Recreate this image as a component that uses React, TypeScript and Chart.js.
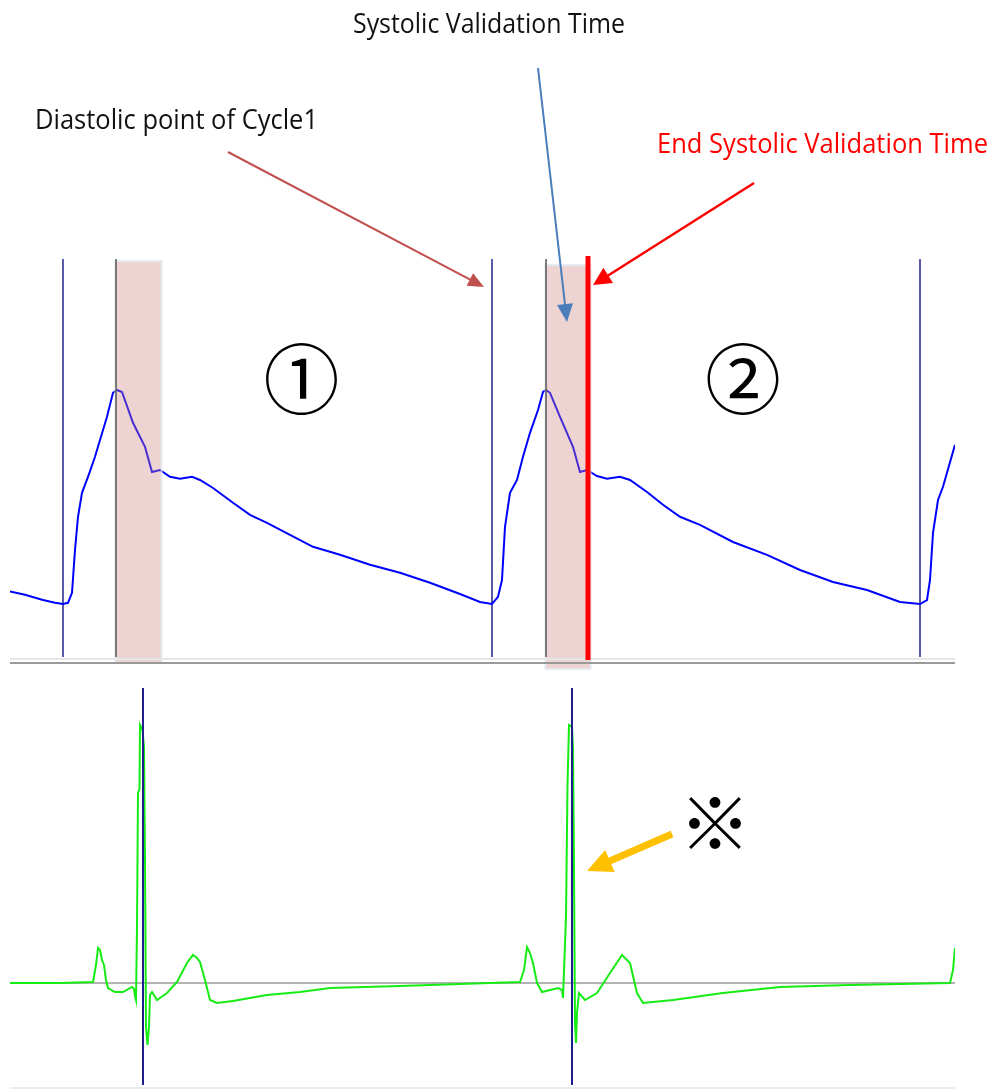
import React, { useEffect, useRef } from "react";
import { Chart, registerables } from "chart.js";

Chart.register(...registerables);

// ---- Arterial pressure trace (time in ms, pressure in mmHg) ----
const bpTimes = [
  0, 30, 66, 90, 106, 116, 124, 130, 136, 144, 156, 170, 180, 194, 206, 214, 224, 246, 270, 284,
  300, 320, 340, 364, 380, 406, 446, 480, 514, 560, 606, 660, 720, 780, 840, 900, 940, 964,
  976, 984, 990, 1000, 1014, 1026, 1040, 1056, 1066, 1072, 1080, 1100, 1126, 1140, 1154, 1174,
  1194, 1220, 1240, 1274, 1306, 1340, 1380, 1446, 1514, 1580, 1646, 1714, 1780, 1820, 1834,
  1840, 1846, 1856, 1866, 1890,
];
const bpValues = [
  77.1, 76.3, 75.0, 74.3, 74.0, 74.3, 76.8, 87.5, 95.8, 101.8, 105.8, 110.8, 115.0, 120.8, 126.8,
  127.5, 127.0, 119.3, 113.3, 107.0, 107.5, 105.8, 105.3, 105.8, 105.0, 103.0, 99.3, 96.3, 94.3,
  91.3, 88.3, 86.3, 83.8, 81.8, 79.3, 76.5, 74.5, 74.0, 75.8, 80.0, 93.3, 101.8, 105.0, 110.8,
  116.8, 122.5, 127.0, 127.5, 126.8, 120.8, 113.3, 107.0, 107.5, 106.0, 105.3, 105.8, 105.0,
  102.0, 98.8, 95.8, 93.8, 89.5, 86.3, 82.5, 79.5, 77.5, 74.5, 74.0, 75.0, 80.0, 91.8, 100.0,
  103.3, 113.8,
];

// ---- ECG trace (time in ms, mV) ----
const ecgTimes = [
  0, 100, 166, 172, 176, 180, 184, 188, 192, 196, 210, 226, 244, 248, 250, 252, 254, 256, 259,
  260, 265, 268, 270, 272, 275, 278, 280, 284, 294, 314, 334, 354, 366, 374, 380, 390, 400, 414,
  446, 514, 580, 640, 780, 900, 960, 1020, 1028, 1034, 1040, 1046, 1054, 1064, 1096, 1104, 1106,
  1112, 1115, 1118, 1124, 1126, 1128, 1130, 1132, 1134, 1138, 1150, 1174, 1200, 1224, 1240, 1254,
  1266, 1326, 1426, 1540, 1680, 1880, 1886, 1890,
];
const ecgValues = [
  0, 0, 0.005, 0.09, 0.175, 0.165, 0.115, 0.09, 0.015, -0.025, -0.045, -0.045, -0.02, -0.03,
  -0.065, -0.085, 0.28, 0.95, 0.97, 1.29, 1.265, 1.18, 0.615, -0.22, -0.31, -0.22, -0.06, -0.045,
  -0.085, -0.05, 0.005, 0.1, 0.14, 0.125, 0.105, 0.015, -0.085, -0.1, -0.09, -0.06, -0.045,
  -0.025, -0.015, -0.005, 0, 0.005, 0.065, 0.18, 0.15, 0.1, 0, -0.045, -0.025, -0.035, -0.075,
  0.33, 0.99, 1.29, 1.28, 1.175, 0.565, -0.2, -0.3, -0.15, -0.05, -0.085, -0.05, 0.05, 0.14, 0.1,
  -0.05, -0.1, -0.085, -0.05, -0.02, -0.01, 0, 0.065, 0.175,
];

// ---- Markers (ms) ----
const cycleMarkerTimes = [106, 964, 1820];
const peakMarkerTimes = [212, 1072];
const windowStarts = [212, 1072];
const windowEnds = [302, 1160];
const endSystolicTime = 1156;
const rWaveTimes = [266, 1124];
const cycleLabels = ["①", "②"];
const cycleLabelTimes = [583, 1466];

const systolicLabel = "Systolic Validation Time";
const diastolicLabel = "Diastolic point of Cycle1";
const endSystolicLabel = "End Systolic Validation Time";
const noteMark = "※";

const TIME_MAX = 1890;

function arrow(
  ctx: CanvasRenderingContext2D,
  x1: number,
  y1: number,
  x2: number,
  y2: number,
  color: string,
  width: number,
  headLen: number,
  headHalf: number
) {
  const a = Math.atan2(y2 - y1, x2 - x1);
  const bx = x2 - Math.cos(a) * headLen;
  const by = y2 - Math.sin(a) * headLen;
  ctx.save();
  ctx.strokeStyle = color;
  ctx.fillStyle = color;
  ctx.lineWidth = width;
  ctx.lineCap = "butt";
  ctx.beginPath();
  ctx.moveTo(x1, y1);
  ctx.lineTo(bx + Math.cos(a) * 2, by + Math.sin(a) * 2);
  ctx.stroke();
  ctx.beginPath();
  ctx.moveTo(x2, y2);
  ctx.lineTo(bx + Math.sin(a) * headHalf, by - Math.cos(a) * headHalf);
  ctx.lineTo(bx - Math.sin(a) * headHalf, by + Math.cos(a) * headHalf);
  ctx.closePath();
  ctx.fill();
  ctx.restore();
}

function vline(ctx: CanvasRenderingContext2D, x: number, y0: number, y1: number) {
  ctx.beginPath();
  ctx.moveTo(x, y0);
  ctx.lineTo(x, y1);
  ctx.stroke();
}

const topPlugin = {
  id: "topAnnotations",
  beforeDatasetsDraw(chart: any) {
    const { ctx } = chart;
    const x = chart.scales.x;
    ctx.save();
    ctx.strokeStyle = "#22228f";
    ctx.lineWidth = 1.5;
    cycleMarkerTimes.forEach((t) => vline(ctx, x.getPixelForValue(t), 259, 657));
    ctx.restore();
  },
  afterDatasetsDraw(chart: any) {
    const { ctx } = chart;
    const x = chart.scales.x;
    ctx.save();
    // validation windows
    windowStarts.forEach((s, i) => {
      const x0 = x.getPixelForValue(s);
      const x1 = x.getPixelForValue(windowEnds[i]);
      const top = i === 0 ? 262 : 266;
      const bottom = i === 0 ? 662 : 668;
      ctx.fillStyle = "rgba(205,130,130,0.35)";
      ctx.fillRect(x0, top, x1 - x0, bottom - top);
      ctx.strokeStyle = "rgba(222,228,238,0.75)";
      ctx.lineWidth = 2;
      ctx.strokeRect(x0 - 0.5, top - 1, x1 - x0 + 1, bottom - top + 2);
    });
    // systolic peak markers
    ctx.strokeStyle = "#555555";
    ctx.lineWidth = 1.5;
    peakMarkerTimes.forEach((t) => vline(ctx, x.getPixelForValue(t), 259, 657));
    // separator
    ctx.strokeStyle = "#e6e6e6";
    ctx.lineWidth = 2;
    ctx.beginPath();
    ctx.moveTo(x.getPixelForValue(0), 659);
    ctx.lineTo(x.getPixelForValue(TIME_MAX), 659);
    ctx.stroke();
    ctx.strokeStyle = "#9a9a9a";
    ctx.lineWidth = 2;
    ctx.beginPath();
    ctx.moveTo(x.getPixelForValue(0), 663);
    ctx.lineTo(x.getPixelForValue(TIME_MAX), 663);
    ctx.stroke();
    // end systolic red line
    const ex = x.getPixelForValue(endSystolicTime);
    ctx.strokeStyle = "#ff0000";
    ctx.lineWidth = 5;
    vline(ctx, ex, 256, 660);

    // cycle labels
    ctx.fillStyle = "#000000";
    ctx.textAlign = "center";
    ctx.textBaseline = "middle";
    ctx.font = '76px "Noto Sans CJK JP"';
    cycleLabels.forEach((lab, i) => ctx.fillText(lab, x.getPixelForValue(cycleLabelTimes[i]), 379));

    // text labels
    ctx.textAlign = "left";
    ctx.textBaseline = "alphabetic";
    ctx.font = '27px "Open Sans"';
    ctx.fillStyle = "#111111";
    ctx.fillText(systolicLabel, 353, 33, 272);
    ctx.fillText(diastolicLabel, 35, 129, 283);
    ctx.fillStyle = "#ff0000";
    ctx.fillText(endSystolicLabel, 657, 152.5, 331);

    // arrows
    const diasX = x.getPixelForValue(cycleMarkerTimes[1]);
    arrow(ctx, 228, 152, diasX - 8, 287, "#c0504d", 2, 16, 7);
    const winMid = x.getPixelForValue((windowStarts[1] + windowEnds[1]) / 2);
    arrow(ctx, 538, 68, winMid - 1, 322, "#4a7ebb", 2, 18, 8);
    arrow(ctx, 754, 183, ex + 5, 285, "#ff0000", 2.5, 18, 9);
    ctx.restore();
  },
};

const bottomPlugin = {
  id: "bottomAnnotations",
  beforeDatasetsDraw(chart: any) {
    const { ctx } = chart;
    const x = chart.scales.x;
    const y = chart.scales.y;
    ctx.save();
    ctx.strokeStyle = "#999999";
    ctx.lineWidth = 1.5;
    ctx.beginPath();
    ctx.moveTo(x.getPixelForValue(0), y.getPixelForValue(0));
    ctx.lineTo(x.getPixelForValue(TIME_MAX), y.getPixelForValue(0));
    ctx.stroke();
    ctx.restore();
  },
  afterDatasetsDraw(chart: any) {
    const { ctx, chartArea } = chart;
    const x = chart.scales.x;
    ctx.save();
    ctx.strokeStyle = "#1f1f8c";
    ctx.lineWidth = 2;
    rWaveTimes.forEach((t) => vline(ctx, x.getPixelForValue(t), chartArea.top, chartArea.bottom));
    ctx.strokeStyle = "#ececec";
    ctx.lineWidth = 2;
    ctx.beginPath();
    ctx.moveTo(x.getPixelForValue(0), chartArea.bottom + 3);
    ctx.lineTo(x.getPixelForValue(TIME_MAX), chartArea.bottom + 3);
    ctx.stroke();
    // note mark
    ctx.fillStyle = "#000000";
    ctx.textAlign = "center";
    ctx.textBaseline = "middle";
    ctx.font = '72px "Noto Sans CJK JP"';
    ctx.fillText(noteMark, 715, 151);
    // orange arrow
    const rx = x.getPixelForValue(rWaveTimes[1]);
    arrow(ctx, 672, 162, rx + 15, 199, "#ffc000", 7, 25, 12);
    ctx.restore();
  },
};

function BpChart() {
  const ref = useRef<HTMLCanvasElement | null>(null);
  useEffect(() => {
    if (!ref.current) return;
    const chart = new Chart(ref.current, {
      type: "line",
      data: {
        datasets: [
          {
            data: bpTimes.map((t, i) => ({ x: t, y: bpValues[i] })),
            borderColor: "#0000ff",
            borderWidth: 2,
            pointRadius: 0,
            tension: 0,
            fill: false,
          },
        ],
      },
      options: {
        responsive: false,
        animation: false,
        devicePixelRatio: 1,
        layout: { padding: { left: 10, right: 39, top: 260, bottom: 12 } },
        scales: {
          x: { type: "linear", min: 0, max: TIME_MAX, display: false },
          y: { min: 60, max: 160, display: false },
        },
        plugins: { legend: { display: false }, tooltip: { enabled: false } },
        events: [],
      },
      plugins: [topPlugin],
    } as any);
    return () => chart.destroy();
  }, []);
  return <canvas ref={ref} width={994} height={672} style={{ display: "block" }} />;
}

function EcgChart() {
  const ref = useRef<HTMLCanvasElement | null>(null);
  useEffect(() => {
    if (!ref.current) return;
    const chart = new Chart(ref.current, {
      type: "line",
      data: {
        datasets: [
          {
            data: ecgTimes.map((t, i) => ({ x: t, y: ecgValues[i] })),
            borderColor: "#14ec14",
            borderWidth: 2,
            pointRadius: 0,
            tension: 0,
            fill: false,
          },
        ],
      },
      options: {
        responsive: false,
        animation: false,
        devicePixelRatio: 1,
        layout: { padding: { left: 10, right: 39, top: 16, bottom: 7 } },
        scales: {
          x: { type: "linear", min: 0, max: TIME_MAX, display: false },
          y: { min: -0.51, max: 1.475, display: false },
        },
        plugins: { legend: { display: false }, tooltip: { enabled: false } },
        events: [],
      },
      plugins: [bottomPlugin],
    } as any);
    return () => chart.destroy();
  }, []);
  return <canvas ref={ref} width={994} height={420} style={{ display: "block" }} />;
}

export default function App() {
  return (
    <div
      style={{
        position: "absolute",
        left: 0,
        top: 0,
        width: 994,
        height: 1092,
        background: "#ffffff",
        overflow: "hidden",
      }}
    >
      <BpChart />
      <EcgChart />
    </div>
  );
}
